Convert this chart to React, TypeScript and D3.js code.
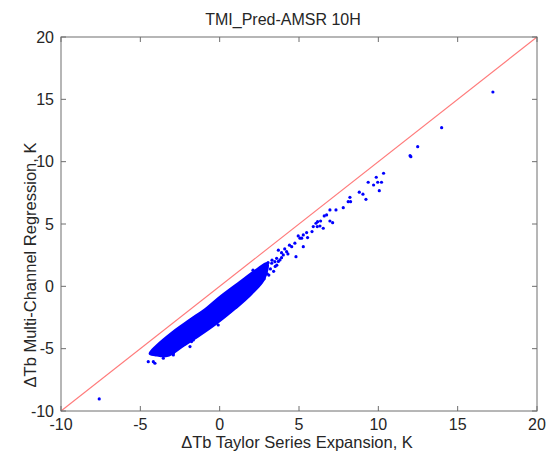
import * as d3 from 'd3'

const title = 'TMI_Pred-AMSR 10H'
const xLabel = '\u0394Tb Taylor Series Expansion, K'
const yLabel = '\u0394Tb Multi-Channel Regression, K'

const xTicks = [-10, -5, 0, 5, 10, 15, 20]
const yTicks = [-10, -5, 0, 5, 10, 15, 20]

// outline of the dense core of the cloud (upper edge, then lower edge)
const cloudUpper: [number, number][] = [
  [-4.4, -5.4], [-4.0, -4.8], [-2.94, -3.66], [-1.87, -2.69], [-0.8, -1.73],
  [0.02, -0.85], [1.28, 0.35], [2.3, 1.3], [3.0, 1.85]
]
const cloudLower: [number, number][] = [
  [-4.08, -5.5], [-3.32, -5.58], [-2.31, -4.78], [-1.24, -3.9], [-0.17, -2.94],
  [1.0, -1.75], [2.0, -0.6], [2.8, 0.6]
]

// scattered points around and beyond the core
const pointsX = [
  17.22, 13.99, 12.48, 12.0, 12.05, 10.33, 9.87, 9.36, 9.7, 9.96, 10.2, 10.06,
  8.8, 9.03, 9.22, 8.21, 8.1, 8.25, 7.79, 7.33, 6.95, 6.74, 6.59, 6.95, 7.12,
  6.36, 6.17, 6.07, 6.32, 6.15, 5.9, 6.53, 5.82, 5.48, 5.27, 4.95, 5.06, 5.54,
  5.17, 4.74, 4.54, 4.81, 4.22, 4.01, 3.8, 3.48, 3.28, 3.59, 2.96, 2.85, 5.27,
  4.4, 4.1, 3.9, 3.7, 2.1, 0.65, -0.09, 0.54, -1.66, -1.77, -2.92, -3.45, -4.08,
  -4.18, -4.5, -3.55, -1.87, -2.92, -4.08, -7.59,
  3.0, 3.2, 3.5, 2.8, 3.1, 3.7, 3.9, 3.4, 2.6, 3.3, 2.7, 3.6, 4.3, 2.4, 3.05
]
const pointsY = [
  15.59, 12.73, 11.2, 10.48, 10.4, 9.07, 8.75, 8.35, 8.13, 8.35, 8.35, 7.67,
  7.55, 7.39, 6.98, 7.14, 6.79, 6.79, 6.31, 6.13, 6.13, 5.73, 5.65, 5.24, 5.11,
  5.24, 5.19, 5.06, 4.84, 4.79, 4.79, 4.66, 4.39, 4.31, 4.12, 4.04, 3.86, 3.91,
  3.86, 3.46, 3.18, 2.38, 2.78, 2.52, 2.12, 1.98, 1.85, 2.25, 1.58, 1.18, 3.18,
  3.3, 3.0, 2.7, 2.9, 1.3, -2.03, -3.1, -2.1, -4.3, -4.43, -5.5, -5.5, -5.24,
  -6.04, -6.04, -5.77, -4.83, -5.37, -6.17, -9.03,
  1.0, 1.4, 1.6, 0.6, 0.9, 2.0, 2.3, 1.2, 0.3, 2.1, 1.6, 1.7, 2.6, 0.0, 1.9
]

const W = 547
const H = 459
const margin = { left: 61, right: 10, top: 37, bottom: 48 }
const textColor = '#262626'
const axisColor = '#6e6e6e'
const font = 'Liberation Sans, Arial, sans-serif'

export default function App() {
  const x = d3.scaleLinear().domain([-10, 20]).range([margin.left, W - margin.right])
  const y = d3.scaleLinear().domain([-10, 20]).range([H - margin.bottom, margin.top])
  const [x0, x1] = x.range()
  const [y0, y1] = [y(20), y(-10)]

  const outline = [...cloudUpper, ...cloudLower.slice().reverse()]
  const cloudPath = d3.line<[number, number]>()
    .x(d => x(d[0]))
    .y(d => y(d[1]))
    .curve(d3.curveCatmullRomClosed)(outline)

  const tickLen = 5

  return (
    <div style={{ position: 'absolute', left: 0, top: 0 }}>
      <svg width={W} height={H} style={{ display: 'block', background: '#fff' }} fontFamily={font}>
        {/* diagonal 1:1 line */}
        <line x1={x(-10)} y1={y(-10)} x2={x(20)} y2={y(20)} stroke="#ff7a7a" strokeWidth={1.1} />

        {/* dense cloud */}
        <path d={cloudPath ?? ''} fill="#0000ff" stroke="#0000ff" strokeWidth={2.5} strokeLinejoin="round" />
        {pointsX.map((px, i) => (
          <circle key={i} cx={x(px)} cy={y(pointsY[i])} r={1.6} fill="#0000ff" />
        ))}

        {/* box */}
        <rect x={x0} y={y0} width={x1 - x0} height={y1 - y0} fill="none" stroke={axisColor} strokeWidth={1} />

        {xTicks.map(t => (
          <g key={'x' + t}>
            <line x1={x(t)} x2={x(t)} y1={y1} y2={y1 - tickLen} stroke={axisColor} />
            <line x1={x(t)} x2={x(t)} y1={y0} y2={y0 + tickLen} stroke={axisColor} />
            <text x={x(t)} y={y1 + 19} textAnchor="middle" fontSize={16} fill={textColor}>{t}</text>
          </g>
        ))}
        {yTicks.map(t => (
          <g key={'y' + t}>
            <line x1={x0} x2={x0 + tickLen} y1={y(t)} y2={y(t)} stroke={axisColor} />
            <line x1={x1} x2={x1 - tickLen} y1={y(t)} y2={y(t)} stroke={axisColor} />
            <text x={x0 - 7} y={y(t)} dy="0.35em" textAnchor="end" fontSize={16} fill={textColor}>{t}</text>
          </g>
        ))}

        <text x={283} y={25} textAnchor="middle" fontSize={16} fill={textColor}>{title}</text>
        <text x={297} y={448} textAnchor="middle" fontSize={16.5} fill={textColor}>{xLabel}</text>
        <text transform="translate(36,265) rotate(-90)" textAnchor="middle" fontSize={16.5} fill={textColor}>{yLabel}</text>
      </svg>
    </div>
  )
}
